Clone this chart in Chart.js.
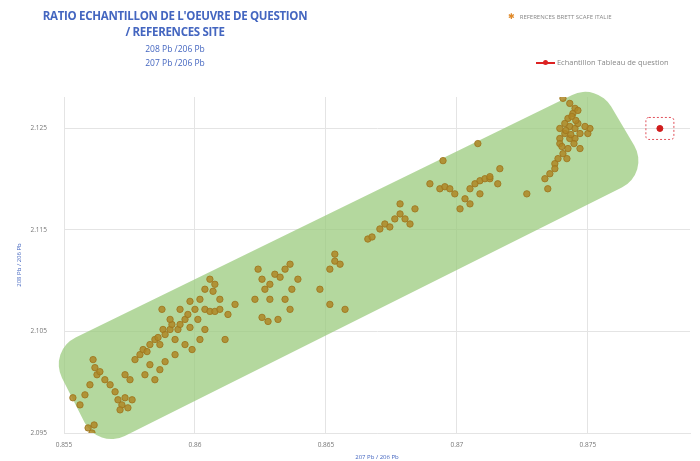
<!DOCTYPE html>
<html>
<head>
<meta charset="utf-8">
<script src="https://cdn.jsdelivr.net/npm/chart.js@4.4.1/dist/chart.umd.min.js"></script>
<style>
  body { margin: 0; background: #fff; font-family: "Open Sans", "Liberation Sans", sans-serif; }
  #wrap { position: relative; width: 700px; height: 461px; }
  #c { position: absolute; left: 0; top: 0; }
  .t { position: absolute; color: #4466c0; white-space: nowrap; text-align: center; }
  .lg { position: absolute; color: #888; white-space: nowrap; }
</style>
</head>
<body>
<div id="wrap">
  <canvas id="c" width="700" height="461"></canvas>
  <div class="t" style="left:25px;top:8px;width:300px;font-size:11.5px;font-weight:bold;letter-spacing:-0.3px;">RATIO ECHANTILLON DE L'OEUVRE DE QUESTION</div>
  <div class="t" style="left:25px;top:24px;width:300px;font-size:11.5px;font-weight:bold;letter-spacing:-0.3px;">/ REFERENCES SITE</div>
  <div class="t" style="left:25px;top:43px;width:300px;font-size:8.5px;">208 Pb /206 Pb</div>
  <div class="t" style="left:25px;top:57px;width:300px;font-size:8.5px;">207 Pb /206 Pb</div>
  <div class="lg" style="left:508px;top:10px;font-size:6px;"><span style="color:#e08a2a;font-size:8px;">✱</span>&nbsp;&nbsp; REFERENCES BRETT SCAFE ITALIE</div>
  <div class="lg" style="left:536px;top:57px;font-size:7.5px;"><span style="display:inline-block;width:19px;height:2px;background:#d22;vertical-align:middle;position:relative;"><span style="position:absolute;left:7px;top:-2px;width:5px;height:5px;border-radius:50%;background:#d22;"></span></span> Echantillon Tableau de question</div>
</div>
<script>
// tick labels
const xTicks = [0.855, 0.86, 0.865, 0.87, 0.875];
const xTickLabels = ["0.855", "0.86", "0.865", "0.87", "0.875"];
const yTicks = [2.095, 2.105, 2.115, 2.125];
const yTickLabels = ["2.095", "2.105", "2.115", "2.125"];

// reference samples: 207Pb/206Pb
const refX = [
  0.85534, 0.85561, 0.85580, 0.85599, 0.85611, 0.85618, 0.85626, 0.85637, 0.85592, 0.85607,
  0.85615, 0.85656, 0.85676, 0.85695, 0.85706, 0.85721, 0.85733, 0.85714, 0.85733, 0.85752,
  0.85760, 0.85744,
  0.85771, 0.85790, 0.85802, 0.85817, 0.85828, 0.85847, 0.85859, 0.85866, 0.85878, 0.85886,
  0.85905, 0.85912, 0.85924, 0.85935, 0.85943, 0.85962, 0.85973, 0.85981, 0.86000, 0.86011,
  0.85828, 0.85809, 0.85847, 0.85866, 0.85886, 0.85924, 0.85962, 0.85989, 0.86019, 0.86038,
  0.85874, 0.85905, 0.85943, 0.85981, 0.86019,
  0.86038, 0.86057, 0.86076, 0.86095, 0.86038, 0.86057, 0.86076, 0.86095, 0.86126, 0.86153,
  0.86115, 0.86069,
  0.86241, 0.86256, 0.86267, 0.86286, 0.86305, 0.86325, 0.86344, 0.86363, 0.86256, 0.86279,
  0.86317, 0.86229, 0.86286, 0.86370, 0.86393, 0.86344, 0.86363,
  0.86534, 0.86534, 0.86515, 0.86554, 0.86477, 0.86515, 0.86573,
  0.86660, 0.86676, 0.86706, 0.86725, 0.86744, 0.86763, 0.86783, 0.86802, 0.86821, 0.86783,
  0.86840,
  0.86897, 0.86935, 0.86954, 0.86973, 0.86992, 0.86947, 0.87012, 0.87031, 0.87050, 0.87069,
  0.87088, 0.87107, 0.87126, 0.87080, 0.87050, 0.87088, 0.87126, 0.87164, 0.87156,
  0.87405, 0.87431, 0.87451, 0.87443, 0.87424, 0.87412, 0.87431, 0.87451, 0.87462, 0.87412,
  0.87393, 0.87431, 0.87451, 0.87470, 0.87424, 0.87405, 0.87386, 0.87374, 0.87470, 0.87500,
  0.87508, 0.87267, 0.87336, 0.87355, 0.87374, 0.87393, 0.87439, 0.87454, 0.87416, 0.87435,
  0.87447, 0.87401, 0.87420, 0.87347, 0.87489, 0.87462, 0.87393
];
// reference samples: 208Pb/206Pb
const refY = [
  2.09847, 2.09777, 2.09876, 2.09975, 2.10223, 2.10144, 2.10074, 2.10104, 2.09550, 2.09500,
  2.09579, 2.10025, 2.09975, 2.09906, 2.09827, 2.09777, 2.09847, 2.09728, 2.10074, 2.10025,
  2.09827, 2.09748,
  2.10223, 2.10272, 2.10322, 2.10302, 2.10371, 2.10421, 2.10441, 2.10371, 2.10520, 2.10470,
  2.10520, 2.10569, 2.10421, 2.10520, 2.10569, 2.10619, 2.10668, 2.10540, 2.10718, 2.10619,
  2.10173, 2.10074, 2.10025, 2.10124, 2.10203, 2.10272, 2.10371, 2.10322, 2.10421, 2.10520,
  2.10718, 2.10619, 2.10718, 2.10797, 2.10817,
  2.10718, 2.10698, 2.10698, 2.10718, 2.10916, 2.11015, 2.10965, 2.10817, 2.10668, 2.10767,
  2.10421, 2.10896,
  2.11114, 2.11015, 2.10916, 2.10965, 2.11064, 2.11035, 2.11114, 2.11163, 2.10639, 2.10599,
  2.10619, 2.10817, 2.10817, 2.10916, 2.11015, 2.10817, 2.10718,
  2.11262, 2.11193, 2.11114, 2.11163, 2.10916, 2.10767, 2.10718,
  2.11411, 2.11431, 2.11510, 2.11559, 2.11530, 2.11609, 2.11658, 2.11609, 2.11559, 2.11757,
  2.11708,
  2.11955, 2.11906, 2.11926, 2.11906, 2.11856, 2.12183, 2.11708, 2.11807, 2.11906, 2.11955,
  2.11985, 2.12005, 2.12005, 2.12351, 2.11757, 2.11856, 2.12025, 2.12104, 2.11955,
  2.12797, 2.12747, 2.12698, 2.12648, 2.12599, 2.12549, 2.12520, 2.12500, 2.12549, 2.12450,
  2.12401, 2.12401, 2.12401, 2.12450, 2.12302, 2.12252, 2.12203, 2.12153, 2.12302, 2.12450,
  2.12500, 2.11856, 2.12005, 2.12054, 2.12104, 2.12351, 2.12619, 2.12579, 2.12480, 2.12440,
  2.12351, 2.12322, 2.12203, 2.11906, 2.12520, 2.12678, 2.12500
];

// sample of the painting in question
const sampleX = [0.87775];
const sampleY = [2.1250];

// green zone corners (data coords)
const zoneX = [0.85440, 0.87535, 0.87740, 0.85630];
const zoneY = [2.10310, 2.12950, 2.12060, 2.09340];

const refPoints = refX.map((x, i) => ({ x: x, y: refY[i] }));
const samplePoints = sampleX.map((x, i) => ({ x: x, y: sampleY[i] }));

const zonePlugin = {
  id: "zone",
  beforeDatasetsDraw(chart) {
    const { ctx, scales } = chart;
    const pts = zoneX.map((x, i) => [scales.x.getPixelForValue(x), scales.y.getPixelForValue(zoneY[i])]);
    const r = 30;
    ctx.save();
    ctx.beginPath();
    const n = pts.length;
    const start = [(pts[n - 1][0] + pts[0][0]) / 2, (pts[n - 1][1] + pts[0][1]) / 2];
    ctx.moveTo(start[0], start[1]);
    for (let i = 0; i < n; i++) {
      const p = pts[i], q = pts[(i + 1) % n];
      ctx.arcTo(p[0], p[1], q[0], q[1], r);
    }
    ctx.closePath();
    ctx.fillStyle = "rgba(155,203,125,0.75)";
    ctx.fill();
    ctx.restore();
  },
  afterDatasetsDraw(chart) {
    const { ctx, scales } = chart;
    ctx.save();
    ctx.strokeStyle = "#e0505a";
    ctx.lineWidth = 1;
    ctx.setLineDash([2, 2]);
    sampleX.forEach((x, i) => {
      const px = scales.x.getPixelForValue(x);
      const py = scales.y.getPixelForValue(sampleY[i]);
      ctx.beginPath();
      ctx.roundRect(px - 14, py - 11, 28, 22, 3);
      ctx.stroke();
    });
    ctx.restore();
  }
};

new Chart(document.getElementById("c"), {
  type: "scatter",
  data: {
    datasets: [
      {
        label: "REFERENCES BRETT SCAFE ITALIE",
        data: refPoints,
        backgroundColor: "rgba(175,135,38,0.85)",
        borderColor: "rgba(160,120,32,0.9)",
        borderWidth: 1,
        pointRadius: 3.2,
      },
      {
        label: "Echantillon Tableau de question",
        data: samplePoints,
        backgroundColor: "#d01c1c",
        borderColor: "#d01c1c",
        pointRadius: 3,
      },
    ],
  },
  options: {
    responsive: false,
    animation: false,
    layout: { padding: { top: 97, right: 10, left: 16, bottom: 0 } },
    plugins: { legend: { display: false }, tooltip: { enabled: false } },
    scales: {
      x: {
        type: "linear",
        min: 0.855,
        max: 0.8789,
        afterBuildTicks: (s) => { s.ticks = xTicks.map((v) => ({ value: v })); },
        afterFit: (s) => { s.height = 28; },
        ticks: {
          callback: (v) => xTickLabels[xTicks.indexOf(v)] ?? "",
          font: { size: 6.5, family: "Open Sans" },
          color: "#777",
          padding: 8,
          maxRotation: 0,
        },
        grid: { color: "#e4e4e4", drawTicks: false },
        border: { color: "#e4e4e4" },
        title: {
          display: true,
          text: "207 Pb / 206 Pb",
          color: "#4466c0",
          font: { size: 6, family: "Open Sans" },
          padding: { top: 3, bottom: 0 },
        },
      },
      y: {
        type: "linear",
        min: 2.095,
        max: 2.1281,
        afterBuildTicks: (s) => { s.ticks = yTicks.map((v) => ({ value: v })); },
        afterFit: (s) => { s.width = 48; },
        ticks: {
          callback: (v) => yTickLabels[yTicks.indexOf(v)] ?? "",
          font: { size: 6.5, family: "Open Sans" },
          color: "#777",
          padding: 17,
        },
        grid: { color: "#e4e4e4", drawTicks: false },
        border: { color: "#e4e4e4" },
        title: {
          display: true,
          text: "208 Pb / 206 Pb",
          color: "#4466c0",
          font: { size: 6, family: "Open Sans" },
          padding: { top: 0, bottom: 0 },
        },
      },
    },
  },
  plugins: [zonePlugin],
});
</script>
</body>
</html>
